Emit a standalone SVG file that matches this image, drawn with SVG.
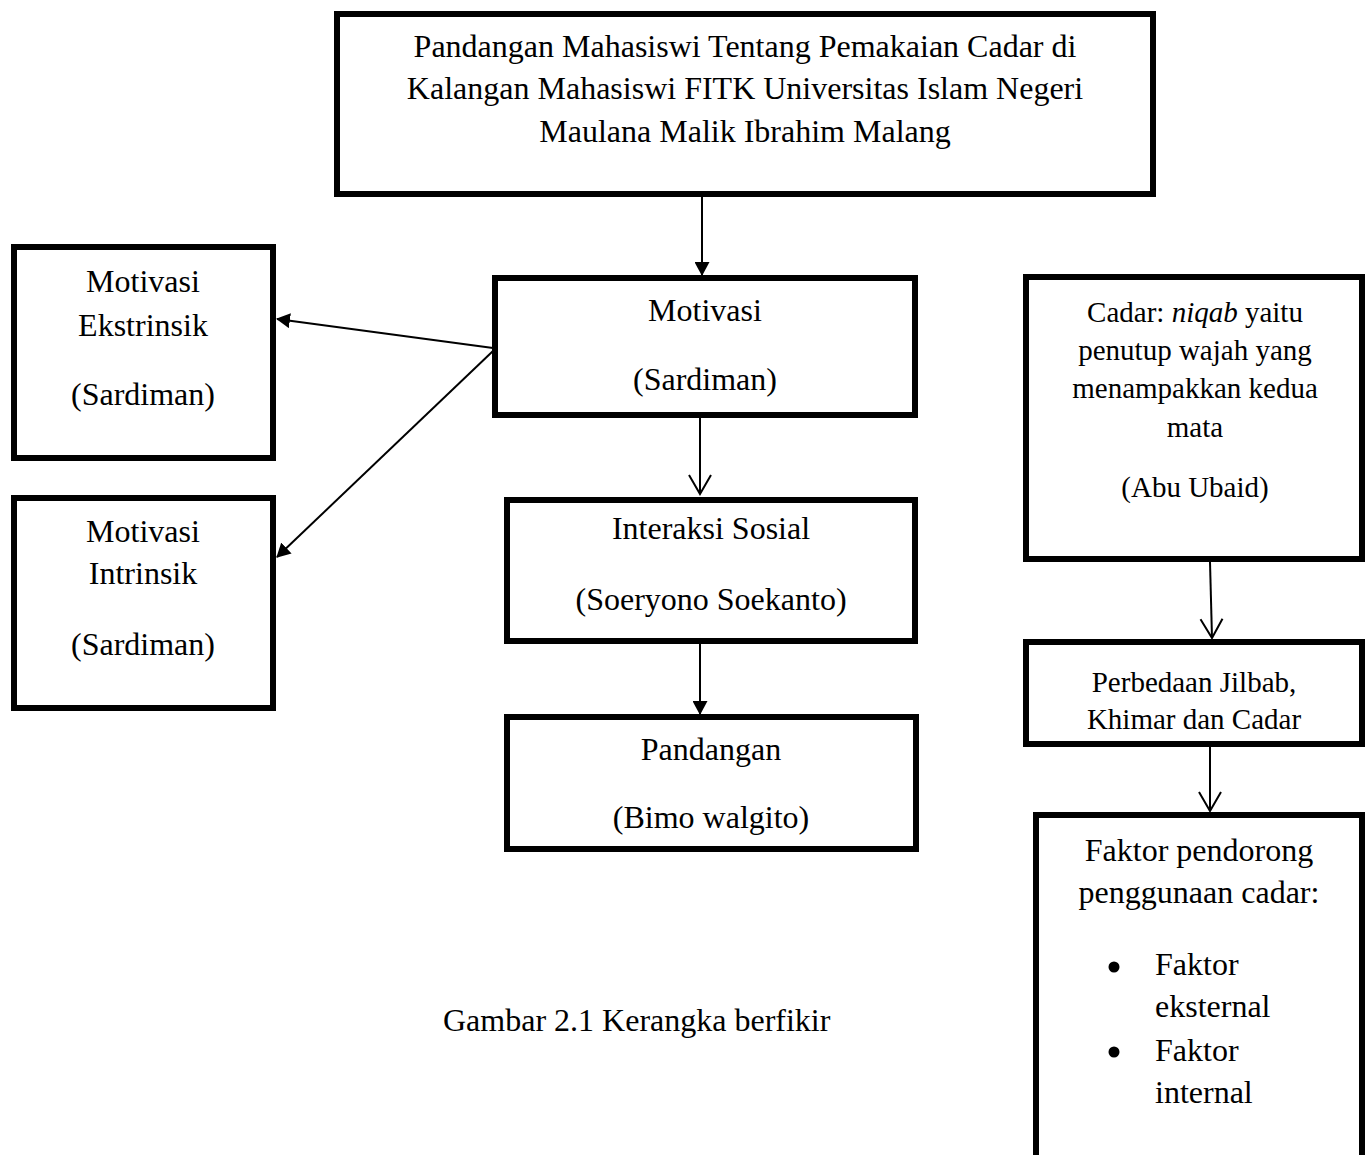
<svg xmlns="http://www.w3.org/2000/svg" width="1372" height="1155" viewBox="0 0 1372 1155">
<style>
.box{fill:#fff;stroke:#000;stroke-width:6}
.t{font-family:"Liberation Serif","Times New Roman",serif;font-size:32px;fill:#000;text-anchor:middle}
.s{font-size:29px}
.l{text-anchor:start}
.c{stroke:#000;stroke-width:2;fill:none}
</style>
<defs>
<marker id="fa" markerUnits="userSpaceOnUse" viewBox="0 0 14 15" refX="13" refY="7.5" markerWidth="14" markerHeight="15" orient="auto"><path d="M0,0 L14,7.5 L0,15 z" fill="#000"/></marker>
<marker id="va" markerUnits="userSpaceOnUse" viewBox="-1 -1 22 25" refX="19" refY="11" markerWidth="22" markerHeight="25" orient="auto"><path d="M0,0 L19,11 L0,22" fill="none" stroke="#000" stroke-width="2"/></marker>
</defs>
<rect width="1372" height="1155" fill="#fff"/>
<g id="connectors">
<line class="c" x1="702" y1="197" x2="702" y2="275" marker-end="url(#fa)"/>
<line class="c" x1="493" y1="348" x2="277" y2="319" marker-end="url(#fa)"/>
<line class="c" x1="493" y1="351" x2="277" y2="557" marker-end="url(#fa)"/>
<line class="c" x1="700" y1="418" x2="700" y2="494" marker-end="url(#va)"/>
<line class="c" x1="700" y1="644" x2="700" y2="714" marker-end="url(#fa)"/>
<line class="c" x1="1210" y1="562" x2="1212" y2="638" marker-end="url(#va)"/>
<line class="c" x1="1210" y1="747" x2="1210" y2="811" marker-end="url(#va)"/>
</g>
<g id="node-top">
<rect class="box" x="337" y="14" width="816" height="180"/>
<text class="t" x="745" y="57">Pandangan Mahasiswi Tentang Pemakaian Cadar di</text>
<text class="t" x="745" y="99">Kalangan Mahasiswi FITK Universitas Islam Negeri</text>
<text class="t" x="745" y="142">Maulana Malik Ibrahim Malang</text>
</g>
<g id="node-ekstrinsik">
<rect class="box" x="14" y="247" width="259" height="211"/>
<text class="t" x="143" y="292">Motivasi</text>
<text class="t" x="143" y="336">Ekstrinsik</text>
<text class="t" x="143" y="405">(Sardiman)</text>
</g>
<g id="node-intrinsik">
<rect class="box" x="14" y="498" width="259" height="210"/>
<text class="t" x="143" y="542">Motivasi</text>
<text class="t" x="143" y="584">Intrinsik</text>
<text class="t" x="143" y="655">(Sardiman)</text>
</g>
<g id="node-motivasi">
<rect class="box" x="495" y="278" width="420" height="137"/>
<text class="t" x="705" y="321">Motivasi</text>
<text class="t" x="705" y="390">(Sardiman)</text>
</g>
<g id="node-interaksi">
<rect class="box" x="507" y="500" width="408" height="141"/>
<text class="t" x="711" y="539">Interaksi Sosial</text>
<text class="t" x="711" y="610">(Soeryono Soekanto)</text>
</g>
<g id="node-pandangan">
<rect class="box" x="507" y="717" width="409" height="132"/>
<text class="t" x="711" y="760">Pandangan</text>
<text class="t" x="711" y="828">(Bimo walgito)</text>
</g>
<g id="node-cadar">
<rect class="box" x="1026" y="277" width="336" height="282"/>
<text class="t s" x="1195" y="322">Cadar: <tspan font-style="italic">niqab</tspan> yaitu</text>
<text class="t s" x="1195" y="360">penutup wajah yang</text>
<text class="t s" x="1195" y="398">menampakkan kedua</text>
<text class="t s" x="1195" y="437">mata</text>
<text class="t s" x="1195" y="497">(Abu Ubaid)</text>
</g>
<g id="node-perbedaan">
<rect class="box" x="1026" y="642" width="336" height="102"/>
<text class="t s" x="1194" y="692">Perbedaan Jilbab,</text>
<text class="t s" x="1194" y="729">Khimar dan Cadar</text>
</g>
<g id="node-faktor">
<rect class="box" x="1036" y="815" width="326" height="360"/>
<text class="t" x="1199" y="861">Faktor pendorong</text>
<text class="t" x="1199" y="903">penggunaan cadar:</text>
<circle cx="1114" cy="967" r="5.5" fill="#000"/>
<text class="t l" x="1155" y="975">Faktor</text>
<text class="t l" x="1155" y="1017">eksternal</text>
<circle cx="1114" cy="1052" r="5.5" fill="#000"/>
<text class="t l" x="1155" y="1061">Faktor</text>
<text class="t l" x="1155" y="1103">internal</text>
</g>
<g id="caption">
<text class="t l" x="443" y="1031">Gambar 2.1 Kerangka berfikir</text>
</g>
</svg>
